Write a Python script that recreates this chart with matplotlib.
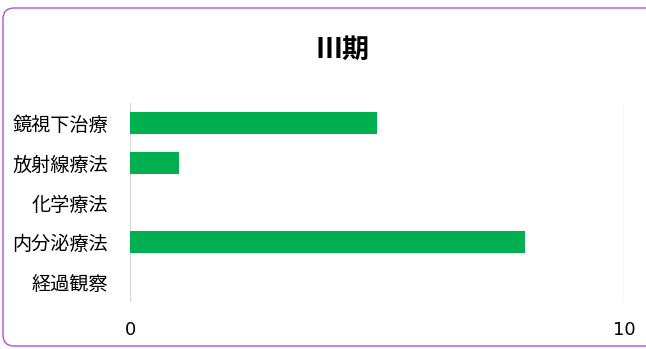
import matplotlib
matplotlib.use("Agg")
import matplotlib.pyplot as plt
from matplotlib.patches import FancyBboxPatch

categories = ["鏡視下治療", "放射線療法", "化学療法", "内分泌療法", "経過観察"]
values = [5, 1, 0, 8, 0]
xticks = [0, 10]
title = "Ⅲ期"

plt.rcParams['font.family'] = ['Noto Sans CJK JP', 'DejaVu Sans']

W, H = 646, 349
fig = plt.figure(figsize=(W/100, H/100), dpi=100)
fig.patch.set_facecolor('white')

# rounded border (pixel coords)
border = FancyBboxPatch((3, 3), 660, 338,
                        boxstyle="round,pad=0,rounding_size=11",
                        transform=None, fill=False,
                        edgecolor='#B04FD8', linewidth=1.0)
fig.patches.append(border)

ax = fig.add_axes([130/W, (H-302)/H, (624-130)/W, (302-103)/H])
y = list(range(len(categories)))
ax.barh(y, values, height=0.55, color='#00B050', edgecolor='none', zorder=3)
ax.set_yticks(y)
ax.set_yticklabels(categories, fontsize=13.8)
ax.set_ylim(len(categories) - 0.5, -0.5)
ax.set_xlim(0, 10)
ax.set_xticks(xticks)
ax.set_xticklabels([str(t) for t in xticks], fontsize=13, family=['DejaVu Sans'])
ax.tick_params(axis='both', length=0, colors='#000000')
ax.tick_params(axis='x', pad=14)
ax.tick_params(axis='y', pad=16)
for s in ax.spines.values():
    s.set_visible(False)
ax.grid(axis='x', color='#D9D9D9', linewidth=1.0, zorder=0)
ax.set_axisbelow(True)

fig.text(343/W, 1 - 50/H, title, fontsize=19.5, fontweight='bold', ha='center', va='center')

fig.savefig("out.png", dpi=100)
